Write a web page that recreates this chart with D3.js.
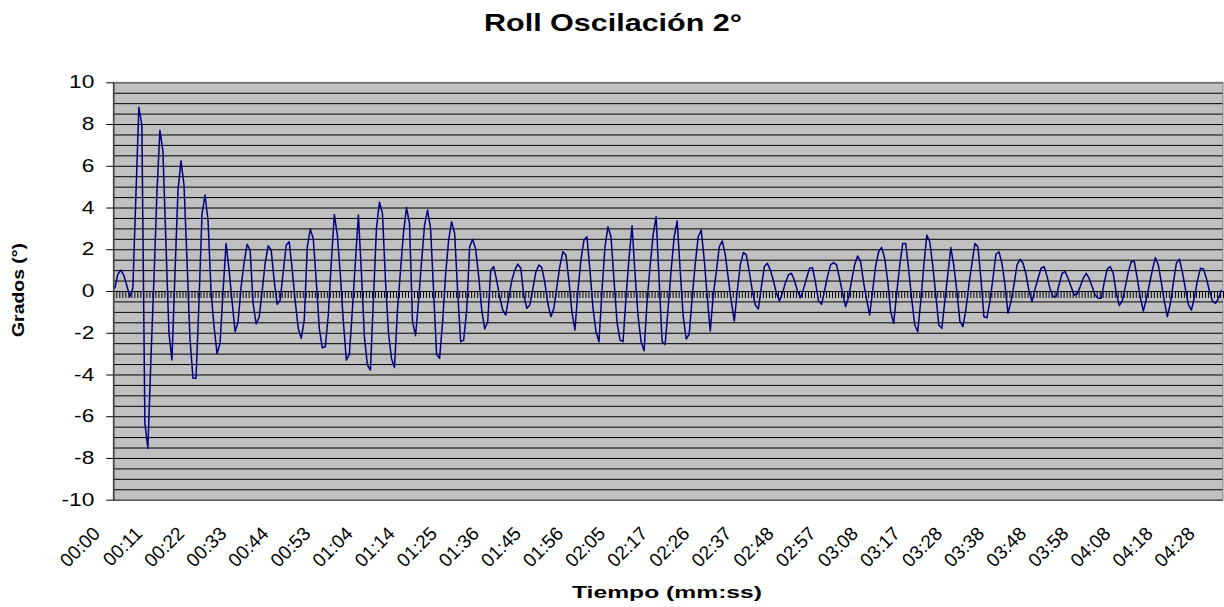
<!DOCTYPE html>
<html>
<head>
<meta charset="utf-8">
<script src="https://cdn.jsdelivr.net/npm/d3@7"></script>
<style>
  html, body { margin: 0; padding: 0; background: #ffffff; }
  svg { display: block; font-family: "Liberation Sans", Arial, sans-serif; }
</style>
</head>
<body>
<svg id="chart" width="1224" height="607"></svg>
<script>
// ---- data ----
const title = "Roll Oscilación 2°";
const xTitle = "Tiempo (mm:ss)";
const yTitle = "Grados (°)";

const tickLabels = ["00:00","00:11","00:22","00:33","00:44","00:53","01:04","01:14","01:25","01:36","01:45","01:56","02:05","02:17","02:26","02:37","02:48","02:57","03:08","03:17","03:28","03:38","03:48","03:58","04:08","04:18","04:28"];
const labelEvery = 14;

const values = [
  0.13, 0.8, 1.0, 0.75, 0.25, -0.27, 0.13, 4.5, 8.8, 7.95,
  -6.34, -7.54, -3.3, 0.5, 4.7, 7.7, 6.7, 2.3, -2.0, -3.3,
  0.8, 4.8, 6.24, 5.1, 1.5, -2.3, -4.18, -4.18, -0.5, 3.7,
  4.6, 3.4, 0.0, -1.7, -3.0, -2.5, 0.0, 2.28, 1.0, -0.5,
  -1.95, -1.47, 0.2, 1.36, 2.24, 1.96, -0.6, -1.58, -1.26, 0.0,
  1.33, 2.17, 1.96, 0.5, -0.64, -0.43, 0.9, 2.2, 2.36, 1.0,
  -0.5, -1.79, -2.27, -1.39, 2.1, 2.96, 2.5, 0.45, -1.8, -2.72,
  -2.67, -1.15, 1.4, 3.67, 2.68, 0.77, -1.47, -3.31, -3.03, -0.9,
  1.4, 3.64, 0.9, -2.2, -3.55, -3.79, -0.4, 3.0, 4.25, 3.72,
  0.5, -2.0, -3.23, -3.67, -0.9, 0.97, 2.8, 4.0, 3.24, -1.47,
  -2.14, -0.5, 1.4, 3.16, 3.88, 3.0, 0.0, -3.03, -3.23, -1.5,
  0.8, 2.44, 3.32, 2.76, 0.0, -2.43, -2.35, -0.95, 2.12, 2.48,
  2.0, 0.7, -0.9, -1.82, -1.47, 1.0, 1.17, 0.5, -0.3, -0.91,
  -1.15, -0.3, 0.5, 1.0, 1.29, 1.09, -0.2, -0.83, -0.67, 0.1,
  0.9, 1.25, 1.12, 0.4, -0.6, -1.23, -0.83, 0.2, 1.2, 1.88,
  1.73, 0.5, -1.0, -1.87, 0.0, 1.5, 2.44, 2.6, 1.0, -0.8,
  -1.95, -2.43, 0.0, 2.12, 3.08, 2.6, 0.5, -1.5, -2.35, -2.43,
  -0.3, 1.6, 3.13, 0.8, -1.2, -2.43, -2.86, -0.5, 1.2, 2.68,
  3.56, 0.5, -2.43, -2.56, -0.8, 1.0, 2.6, 3.35, 1.0, -1.2,
  -2.3, -2.08, -0.3, 1.3, 2.6, 2.92, 1.5, -0.3, -1.92, -0.2,
  0.9, 2.12, 2.4, 1.73, 0.6, -0.5, -1.44, 0.0, 1.25, 1.84,
  1.73, 0.9, 0.0, -0.67, -0.86, 0.2, 1.17, 1.33, 1.0, 0.5,
  -0.1, -0.48, -0.1, 0.4, 0.77, 0.85, 0.5, 0.0, -0.32, 0.1,
  0.6, 1.09, 1.12, 0.4, -0.48, -0.64, 0.0, 0.7, 1.25, 1.36,
  1.25, 0.6, -0.1, -0.75, -0.3, 0.5, 1.25, 1.68, 1.41, 0.4,
  -0.4, -1.15, 0.0, 1.2, 1.88, 2.09, 1.55, 0.5, -1.0, -1.55,
  -0.1, 1.2, 2.28, 2.28, 1.0, -0.4, -1.63, -1.95, -0.5, 1.2,
  2.68, 2.36, 1.2, -0.2, -1.63, -1.79, -0.5, 0.8, 2.08, 1.2,
  0.0, -1.44, -1.71, -0.9, 0.3, 1.3, 2.28, 2.12, 0.6, -1.23,
  -1.28, -0.5, 0.6, 1.76, 1.88, 1.33, 0.3, -1.07, -0.51, 0.3,
  1.25, 1.52, 1.33, 0.8, 0.0, -0.51, 0.1, 0.6, 1.09, 1.17,
  0.7, 0.1, -0.27, -0.27, 0.3, 0.85, 0.93, 0.6, 0.2, -0.19,
  -0.16, 0.2, 0.6, 0.85, 0.6, 0.2, -0.2, -0.35, -0.35, 0.4,
  1.05, 1.17, 0.85, -0.1, -0.7, -0.48, 0.2, 0.9, 1.41, 1.41,
  0.6, -0.3, -0.96, -0.4, 0.3, 1.0, 1.6, 1.25, 0.4, -0.5,
  -1.23, -0.6, 0.4, 1.33, 1.53, 0.9, 0.1, -0.67, -0.91, -0.3,
  0.5, 1.09, 1.05, 0.6, 0.0, -0.48, -0.59, -0.35, 0.05
];

const yTicks = [-10, -8, -6, -4, -2, 0, 2, 4, 6, 8, 10];
const yTickLabels = ["-10", "-8", "-6", "-4", "-2", "0", "2", "4", "6", "8", "10"];

(function () {
  const svg = d3.select("#chart");
  const pLeft = 113.3, pRight = 1223, pTop = 82.3, pBottom = 499.7;
  const N = values.length;

  const x = d3.scaleLinear().domain([0, N]).range([pLeft, pRight]);
  const y = d3.scaleLinear().domain([-10, 10]).range([pBottom, pTop]);
  const cx = i => x(i + 0.5);

  // plot background
  svg.append("rect")
    .attr("x", pLeft).attr("y", pTop)
    .attr("width", pRight - pLeft).attr("height", pBottom - pTop)
    .attr("fill", "#c0c0c0");

  // horizontal gridlines every 0.5
  const grid = svg.append("g").attr("transform", `translate(${pLeft},0)`)
    .call(d3.axisLeft(y).tickValues(d3.range(-10, 10.001, 0.5)).tickSize(-(pRight - pLeft)).tickFormat(""));
  grid.select(".domain").remove();
  grid.selectAll("line").attr("stroke", "#000").attr("stroke-width", 1);

  // plot border
  svg.append("rect")
    .attr("x", pLeft).attr("y", pTop)
    .attr("width", pRight - pLeft).attr("height", pBottom - pTop)
    .attr("fill", "none").attr("stroke", "#808080").attr("stroke-width", 1);

  // category axis at zero with a tick mark per category boundary
  const catAxis = svg.append("g").attr("transform", `translate(0,${y(0)})`)
    .call(d3.axisBottom(x).tickValues(d3.range(0, N + 1)).tickSize(7).tickSizeOuter(0).tickFormat(""));
  catAxis.select(".domain").attr("stroke", "#000").attr("stroke-width", 1);
  catAxis.selectAll(".tick line").attr("stroke", "#000").attr("stroke-width", 1);

  // y axis
  const yAxis = svg.append("g").attr("transform", `translate(${pLeft},0)`)
    .call(d3.axisLeft(y).tickValues(yTicks).tickSize(7).tickSizeOuter(0)
      .tickFormat((d, k) => yTickLabels[k]));
  yAxis.select(".domain").attr("stroke", "#404040").attr("stroke-width", 1.5);
  yAxis.selectAll(".tick line").attr("stroke", "#000");
  yAxis.selectAll(".tick text")
    .attr("font-size", 17.5)
    .attr("font-family", "'Liberation Sans', Arial, sans-serif")
    .attr("fill", "#000")
    .attr("x", 0)
    .attr("text-anchor", "end")
    .attr("transform", "translate(-19,0) scale(1.3,1)");

  // x labels (every labelEvery categories)
  const labelIdx = tickLabels.map((d, k) => k * labelEvery);
  const xLab = svg.append("g").attr("transform", `translate(0,${pBottom})`)
    .call(d3.axisBottom(x).tickValues(labelIdx.map(i => i + 0.5)).tickSize(0)
      .tickFormat((d, k) => tickLabels[k]));
  xLab.select(".domain").remove();
  xLab.selectAll(".tick text")
    .attr("font-size", 19)
    .attr("font-family", "'Liberation Sans', Arial, sans-serif")
    .attr("fill", "#000")
    .attr("x", 0).attr("y", 0).attr("dy", 0)
    .attr("text-anchor", "end")
    .attr("transform", "translate(-14,35) rotate(-45)");

  // data line
  const line = d3.line().x((d, i) => cx(i)).y(d => y(d));
  svg.append("path")
    .datum(values)
    .attr("d", line)
    .attr("fill", "none")
    .attr("stroke", "#000080")
    .attr("stroke-width", 1.5)
    .attr("stroke-linejoin", "round");

  // titles
  svg.append("text")
    .attr("x", 613).attr("y", 31)
    .attr("text-anchor", "middle")
    .attr("font-size", 24).attr("font-weight", "bold")
    .attr("textLength", 258).attr("lengthAdjust", "spacingAndGlyphs")
    .text(title);

  svg.append("text")
    .attr("x", 667).attr("y", 598)
    .attr("text-anchor", "middle")
    .attr("font-size", 17).attr("font-weight", "bold")
    .attr("textLength", 190).attr("lengthAdjust", "spacingAndGlyphs")
    .text(xTitle);

  svg.append("text")
    .attr("transform", "translate(24,290) rotate(-90)")
    .attr("text-anchor", "middle")
    .attr("font-size", 17).attr("font-weight", "bold")
    .attr("textLength", 94).attr("lengthAdjust", "spacingAndGlyphs")
    .text(yTitle);
})();
</script>
</body>
</html>
